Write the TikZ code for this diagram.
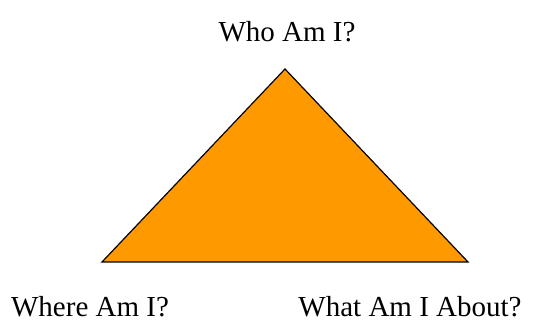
\documentclass[tikz,border=0pt]{standalone}
\usepackage{fontspec}
\setmainfont{Liberation Serif}
\definecolor{triorange}{HTML}{FF9900}
\begin{document}
\begin{tikzpicture}[x=1pt,y=1pt,
  lbl/.style={font=\fontsize{29}{32}\selectfont, inner sep=0pt}]
\useasboundingbox (0,0) rectangle (556,329);
\coordinate (apex) at (285,260);
\coordinate (bl) at (102,67);
\coordinate (br) at (468,67);
\filldraw[fill=triorange, draw=black, line width=1.2pt, line join=miter] (apex) -- (br) -- (bl) -- cycle;
\node[lbl] (who) at (287,297) {Who Am I?};
\node[lbl] (where) at (90,22) {Where Am I?};
\node[lbl] (what) at (410,22) {What Am I About?};
\end{tikzpicture}
\end{document}
